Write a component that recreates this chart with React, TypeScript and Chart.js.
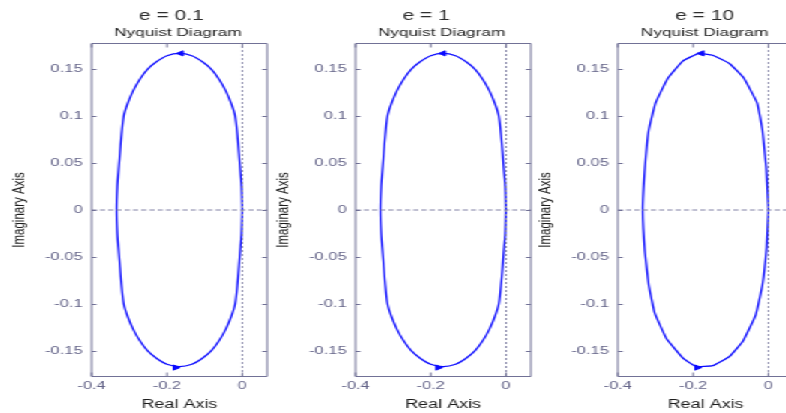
import React, { useEffect, useRef } from 'react';
import { Chart, registerables } from 'chart.js';

Chart.register(...registerables);

// ---------------- data ----------------
const PANEL_TITLES = ['e = 0.1', 'e = 1', 'e = 10'];
const SUBTITLE = 'Nyquist Diagram';
const X_LABEL = 'Real Axis';
const Y_LABEL = 'Imaginary Axis';

const X_TICKS = [-0.4, -0.2, 0];
const X_TICK_LABELS = ['-0.4', '-0.2', '0'];
const Y_TICKS = [-0.15, -0.1, -0.05, 0, 0.05, 0.1, 0.15];
const Y_TICK_LABELS = ['-0.15', '-0.1', '-0.05', '0', '0.05', '0.1', '0.15'];
const X_RANGE = [-0.4, 0.066];
const Y_RANGE = [-0.177, 0.177];

// Nyquist curve, finely sampled (e = 0.1 and e = 1)
const FINE_RE = [0, -0.002, -0.005, -0.008, -0.012, -0.019, -0.029, -0.044, -0.061, -0.082, -0.106, -0.134, -0.167,
  -0.200, -0.228, -0.252, -0.273, -0.290, -0.305, -0.315, -0.322, -0.326, -0.329, -0.332, -0.334,
  -0.332, -0.329, -0.326, -0.322, -0.315, -0.305, -0.290, -0.273, -0.252, -0.228, -0.200, -0.167,
  -0.134, -0.106, -0.082, -0.061, -0.044, -0.029, -0.019, -0.012, -0.008, -0.005, -0.002, 0];
const FINE_IM = [0, 0.025, 0.040, 0.055, 0.075, 0.100, 0.113, 0.127, 0.139, 0.150, 0.158, 0.1645, 0.167,
  0.1645, 0.158, 0.150, 0.139, 0.127, 0.113, 0.100, 0.075, 0.055, 0.040, 0.025, 0,
  -0.025, -0.040, -0.055, -0.075, -0.100, -0.113, -0.127, -0.139, -0.150, -0.158, -0.1645, -0.167,
  -0.1645, -0.158, -0.150, -0.139, -0.127, -0.113, -0.100, -0.075, -0.055, -0.040, -0.025, 0];

// Nyquist curve, coarsely sampled (e = 10)
const COARSE_RE = [0, -0.006, -0.016, -0.030, -0.066, -0.103, -0.148, -0.185, -0.227, -0.268, -0.300, -0.318, -0.328, -0.334,
  -0.328, -0.318, -0.302, -0.271, -0.227, -0.192, -0.148, -0.103, -0.068, -0.034, -0.016, -0.005, 0];
const COARSE_IM = [0, 0.045, 0.085, 0.114, 0.141, 0.156, 0.165, 0.167, 0.159, 0.140, 0.114, 0.085, 0.045, 0,
  -0.045, -0.080, -0.110, -0.137, -0.158, -0.167, -0.166, -0.156, -0.140, -0.112, -0.080, -0.040, 0];

// direction arrows (top: pointing left, bottom: pointing right)
const ARROW_RE = [
  [-0.163, -0.177],
  [-0.167, -0.180],
  [-0.178, -0.189],
];
const ARROW_IM = [0.167, -0.168];
const ARROW_ANGLE = [-90, 90];

// ---------------- layout / style ----------------
const S = 1.5; // horizontal stretch of the whole figure
const PAGE_W = 786;
const PAGE_H = 413;
const BOX_LEFT = [92, 355, 618]; // page px
const BOX_WIDTH = [177, 176, 176]; // page px
const TITLE_DX = [-8, -17, -1]; // page px
const SUB_DX = [-1.5, -1.5, -1];
const CANVAS_W = 184; // virtual px
const Y_AXIS_W = 62; // virtual px
const BOX_TOP = 44;
const X_AXIS_H = 37;

const FONT = "'Liberation Sans', Arial, Helvetica, sans-serif";
const BLUE = '#0a0aff';
const AXIS_COLOR = '#717196';
const TICK_TEXT = '#66668a';
const DASH_COLOR = '#8282a6';
const TEXT_DARK = '#1c1c1c';

const decorPlugin = {
  id: 'panelDecor',
  afterDraw(chart: any, _args: any, opts: any) {
    const { ctx, chartArea } = chart;
    const { left, right, top, bottom } = chartArea;
    const xs = chart.scales.x;
    const ys = chart.scales.y;
    ctx.save();
    ctx.strokeStyle = AXIS_COLOR;
    ctx.lineWidth = 1;
    ctx.beginPath();
    ctx.rect(left, top - 0.5, right - left, bottom - top + 1);
    const tv = 4;
    const th = 3.3;
    xs.ticks.forEach((t: any) => {
      const px = xs.getPixelForValue(t.value);
      ctx.moveTo(px, bottom + 0.5);
      ctx.lineTo(px, bottom + 0.5 - tv);
      ctx.moveTo(px, top - 0.5);
      ctx.lineTo(px, top - 0.5 + tv);
    });
    ys.ticks.forEach((t: any) => {
      const py = Math.round(ys.getPixelForValue(t.value)) + 0.5;
      ctx.moveTo(left, py);
      ctx.lineTo(left + th, py);
      ctx.moveTo(right, py);
      ctx.lineTo(right - th, py);
    });
    ctx.stroke();

    const cx = (left + right) / 2;
    ctx.textAlign = 'center';
    ctx.textBaseline = 'alphabetic';
    ctx.font = `14px ${FONT}`;
    ctx.fillStyle = '#2e2e2e';
    ctx.fillText(opts.title, cx + opts.titleDx, 19.5);
    ctx.font = `11.5px ${FONT}`;
    ctx.fillStyle = TEXT_DARK;
    ctx.fillText(opts.subtitle, cx + opts.subDx, 36);
    ctx.restore();
  },
};

function makeConfig(i: number): any {
  const re = i === 2 ? COARSE_RE : FINE_RE;
  const im = i === 2 ? COARSE_IM : FINE_IM;
  const curve = re.map((x, k) => ({ x, y: im[k] }));
  const arrows = ARROW_RE[i].map((x, k) => ({ x, y: ARROW_IM[k] }));
  const zeroH = X_RANGE.map((x) => ({ x, y: 0 }));
  const zeroV = Y_RANGE.map((y) => ({ x: 0, y }));
  const padRight = CANVAS_W - Y_AXIS_W - BOX_WIDTH[i] / S;

  return {
    type: 'scatter',
    data: {
      datasets: [
        { data: zeroH, showLine: true, borderColor: DASH_COLOR, borderWidth: 1, borderDash: [3.5, 2], pointRadius: 0 },
        { data: zeroV, showLine: true, borderColor: DASH_COLOR, borderWidth: 1, borderDash: [2, 2], pointRadius: 0 },
        {
          data: curve,
          showLine: true,
          borderColor: BLUE,
          borderWidth: 1.3,
          pointRadius: 0,
          tension: i === 2 ? 0.1 : 0.3,
          fill: false,
        },
        {
          data: arrows,
          showLine: false,
          pointStyle: 'triangle',
          pointRotation: ARROW_ANGLE,
          pointRadius: 3,
          pointBackgroundColor: BLUE,
          pointBorderColor: BLUE,
          pointBorderWidth: 1,
        },
      ],
    },
    options: {
      responsive: false,
      animation: false,
      devicePixelRatio: 1,
      events: [],
      layout: { padding: { top: BOX_TOP, left: 0, right: padRight, bottom: 0 } },
      plugins: {
        legend: { display: false },
        tooltip: { enabled: false },
        title: { display: false },
        panelDecor: { title: PANEL_TITLES[i], subtitle: SUBTITLE, titleDx: TITLE_DX[i] / S, subDx: SUB_DX[i] / S },
      },
      scales: {
        x: {
          type: 'linear',
          min: X_RANGE[0],
          max: X_RANGE[1],
          grid: { display: false, drawTicks: false },
          border: { display: false },
          afterBuildTicks: (s: any) => {
            s.ticks = X_TICKS.map((v) => ({ value: v }));
          },
          afterFit: (s: any) => {
            s.height = X_AXIS_H;
          },
          ticks: {
            padding: 3,
            color: TICK_TEXT,
            font: { family: FONT, size: 11 },
            maxRotation: 0,
            autoSkip: false,
            callback: (_v: any, idx: number) => X_TICK_LABELS[idx],
          },
          title: {
            display: true,
            text: X_LABEL,
            color: TEXT_DARK,
            font: { family: FONT, size: 12 },
            padding: { top: 0, bottom: 1.3 },
          },
        },
        y: {
          type: 'linear',
          min: Y_RANGE[0],
          max: Y_RANGE[1],
          grid: { display: false, drawTicks: false },
          border: { display: false },
          afterBuildTicks: (s: any) => {
            s.ticks = Y_TICKS.map((v) => ({ value: v }));
          },
          afterFit: (s: any) => {
            s.width = Y_AXIS_W;
          },
          ticks: {
            padding: 6,
            color: TICK_TEXT,
            font: { family: FONT, size: 11 },
            autoSkip: false,
            callback: (_v: any, idx: number) => Y_TICK_LABELS[idx],
          },
          title: {
            display: true,
            text: Y_LABEL,
            color: TEXT_DARK,
            font: { family: FONT, size: 11.5 },
            padding: { top: 7.1, bottom: 0 },
          },
        },
      },
    },
    plugins: [decorPlugin],
  };
}

function Panel({ index }: { index: number }) {
  const ref = useRef<HTMLCanvasElement>(null);
  useEffect(() => {
    if (!ref.current) return;
    const chart = new Chart(ref.current, makeConfig(index));
    return () => chart.destroy();
  }, [index]);
  const left = BOX_LEFT[index] / S - Y_AXIS_W;
  return (
    <canvas
      ref={ref}
      width={CANVAS_W}
      height={PAGE_H}
      style={{ position: 'absolute', left, top: 0, width: CANVAS_W, height: PAGE_H, display: 'block' }}
    />
  );
}

export default function App() {
  return (
    <div
      style={{
        position: 'fixed',
        left: 0,
        top: 0,
        width: PAGE_W,
        height: PAGE_H,
        overflow: 'hidden',
        background: '#ffffff',
      }}
    >
      <div
        style={{
          position: 'absolute',
          left: 0,
          top: 0,
          width: PAGE_W / S,
          height: PAGE_H,
          transform: `scaleX(${S})`,
          transformOrigin: '0 0',
        }}
      >
        {PANEL_TITLES.map((_, i) => (
          <Panel key={i} index={i} />
        ))}
      </div>
    </div>
  );
}
